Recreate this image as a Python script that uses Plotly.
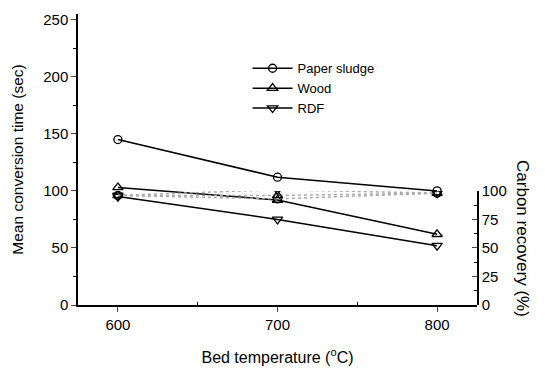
import plotly.graph_objects as go

temperature = [600, 700, 800]
paper_sludge_time = [145, 112, 100]
wood_time = [103, 92, 62]
rdf_time = [95, 75, 52]

paper_sludge_cr = [96, 93, 98]
wood_cr = [96, 96, 98]
rdf_cr = [96, 101, 98]

fig = go.Figure()
line = dict(color="black", width=1.5)

fig.add_trace(go.Scatter(x=temperature, y=paper_sludge_cr, yaxis="y2", mode="lines+markers",
                         line=dict(color="#aaaaaa", width=1.5, dash="dot"),
                         marker=dict(symbol="circle-open", size=8, color="black", line=dict(width=1.3)),
                         showlegend=False))
fig.add_trace(go.Scatter(x=temperature, y=wood_cr, yaxis="y2", mode="lines+markers",
                         line=dict(color="#aaaaaa", width=1.5, dash="dot"),
                         marker=dict(symbol="triangle-up-open", size=9, color="black", line=dict(width=1.3)),
                         showlegend=False))
fig.add_trace(go.Scatter(x=temperature, y=rdf_cr, yaxis="y2", mode="lines+markers",
                         line=dict(color="#aaaaaa", width=1.5, dash="dot"),
                         marker=dict(symbol="triangle-down-open", size=9, color="black", line=dict(width=1.3)),
                         showlegend=False))

fig.add_trace(go.Scatter(x=temperature, y=paper_sludge_time, name="Paper sludge", mode="lines+markers",
                         line=line, marker=dict(symbol="circle-open", size=8, color="black", line=dict(width=1.3))))
fig.add_trace(go.Scatter(x=temperature, y=wood_time, name="Wood", mode="lines+markers",
                         line=line, marker=dict(symbol="triangle-up-open", size=9, color="black", line=dict(width=1.3))))
fig.add_trace(go.Scatter(x=temperature, y=rdf_time, name="RDF", mode="lines+markers",
                         line=line, marker=dict(symbol="triangle-down-open", size=9, color="black", line=dict(width=1.3))))

font = dict(family="Liberation Sans, Arial, sans-serif", color="black")

fig.update_layout(
    width=537, height=361,
    margin=dict(l=70, r=68, t=6, b=64),
    plot_bgcolor="rgba(0,0,0,0)", paper_bgcolor="white",
    font=dict(size=15, **font),
    xaxis=dict(range=[575, 825], tickvals=[600, 700, 800], ticks="outside", ticklen=5,
               tickwidth=1.3, showline=True, linecolor="black", linewidth=1.5, showgrid=False,
               zeroline=False, tickfont=dict(size=15), automargin=False,
               minor=dict(tickvals=[650, 750], ticks="inside", ticklen=3, tickcolor="black"),
               title=dict(text="Bed temperature (<sup>o</sup>C)", font=dict(size=16), standoff=20)),
    yaxis=dict(range=[0, 255], tickvals=[0, 50, 100, 150, 200, 250], ticks="outside", ticklen=5,
               tickwidth=1.3, showline=True, linecolor="black", linewidth=1.5, showgrid=False,
               zeroline=False, tickfont=dict(size=15), automargin=False,
               minor=dict(tickvals=[25, 75, 125, 175, 225], ticks="outside", ticklen=3, tickcolor="black"),
               title=dict(text="Mean conversion time (sec)", font=dict(size=15.5), standoff=16)),
    yaxis2=dict(range=[0, 100], domain=[0, 100 / 255], anchor="x", side="right",
                tickvals=[0, 25, 50, 75, 100], ticks="inside", ticklen=5, tickwidth=1.3,
                showline=True, linecolor="black", linewidth=1.5, showgrid=False, zeroline=False,
                tickfont=dict(size=15), automargin=False,
                minor=dict(tickvals=[12.5, 37.5, 62.5, 87.5], ticks="inside", ticklen=3, tickcolor="black")),
    legend=dict(x=0.425, y=0.865, xanchor="left", yanchor="top", bgcolor="rgba(0,0,0,0)",
                font=dict(size=13), tracegroupgap=0, itemwidth=40),
    annotations=[dict(text="Carbon recovery (%)", textangle=90, x=(523 - 78) / 399,
                      xanchor="center", yanchor="middle",
                      y=0.23, xref="paper", yref="paper", showarrow=False, font=dict(size=17))],
)

fig.write_html("out.html")
